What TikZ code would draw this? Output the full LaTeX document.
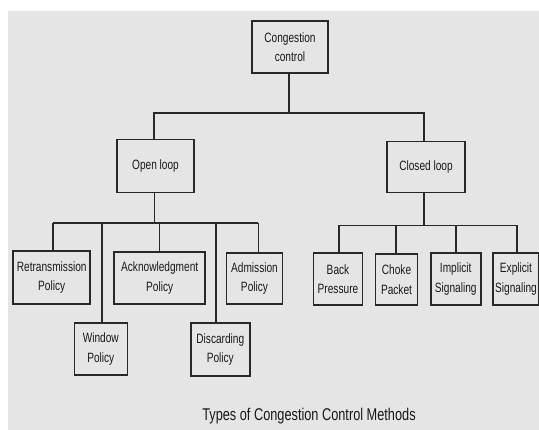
\documentclass[tikz,border=0pt]{standalone}
\usepackage{fontspec}
\usepackage{tikz}
\newfontfamily\diagfont[FakeStretch=0.75]{Liberation Sans}
\definecolor{bg_gray}{RGB}{229,229,229}
\definecolor{line_dark}{RGB}{40,40,40}
\definecolor{text_dark}{RGB}{25,25,25}

\begin{document}
\begin{tikzpicture}[x=1pt,y=-1pt,line width=1.6pt]
    \tikzstyle{box}=[draw=line_dark, rectangle, inner sep=0pt, align=center, fill=none, text=text_dark, font=\diagfont\fontsize{13.5}{19.5}\selectfont]
    \tikzstyle{wire}=[draw=line_dark, line width=1.6pt]

    \useasboundingbox (0,0) rectangle (539,430);
    \fill[white] (0,0) rectangle (539,430);
    \fill[bg_gray] (8,11) rectangle (539,430);

    % top levels
    \node[box, minimum width=76pt, minimum height=52pt] (cc)  at (290,47)    {Congestion\\control};
    \node[box, minimum width=77pt, minimum height=53pt] (ol)  at (155.5,166) {Open loop};
    \node[box, minimum width=78pt, minimum height=51pt] (cl)  at (426,167)   {Closed loop};

    % open loop policies
    \node[box, minimum width=77pt, minimum height=53pt] (retx)  at (51.7,277.5)  {Retransmission\\Policy};
    \node[box, minimum width=53pt, minimum height=52pt] (wind)  at (100.8,349)   {Window\\Policy};
    \node[box, minimum width=91pt, minimum height=52pt] (ack)   at (159.7,278)   {Acknowledgment\\Policy};
    \node[box, minimum width=59pt, minimum height=53pt] (disc)  at (220.3,349.7) {Discarding\\Policy};
    \node[box, minimum width=56pt, minimum height=51pt] (admit) at (254.5,278.3) {Admission\\Policy};

    % closed loop methods
    \node[box, minimum width=49pt, minimum height=52pt] (back)  at (338,279)   {Back\\Pressure};
    \node[box, minimum width=42pt, minimum height=51pt] (choke) at (396.5,279.5) {Choke\\Packet};
    \node[box, minimum width=50pt, minimum height=52pt] (impl)  at (455.7,279) {Implicit\\Signaling};
    \node[box, minimum width=46pt, minimum height=52pt] (expl)  at (516,279)   {Explicit\\Signaling};

    \node[font=\diagfont\fontsize{17}{20}\selectfont, text=text_dark] (title) at (309,416) {Types of Congestion Control Methods};

    % bus points
    \coordinate (top) at (289,113);
    \coordinate (o1) at (52.7,223);
    \coordinate (o2) at (101.7,223);
    \coordinate (o3) at (159.3,223);
    \coordinate (o4) at (216,223);
    \coordinate (o5) at (258.3,223);
    \coordinate (c1) at (339,225.5);
    \coordinate (c2) at (396,225.5);
    \coordinate (c3) at (455.7,225.5);
    \coordinate (c4) at (516.7,225.5);

    \draw[wire] (cc.south -| top) -- (top);
    \draw[wire] (ol.north -| 154,0) |- (top) -| (cl.north -| 424,0);
    \draw[wire] (ol.south -| 154.3,0) -- (154.3,223);
    \draw[wire] (o1) -- (o5);
    \draw[wire] (cl.south -| 424,0) -- (424,225.5);
    \draw[wire] (c1) -- (c4);
    \draw[wire]
     (o1) -- (o1 |- retx.north)
     (o2) -- (o2 |- wind.north)
     (o3) -- (o3 |- ack.north)
     (o4) -- (o4 |- disc.north)
     (o5) -- (o5 |- admit.north)
     (c1) -- (c1 |- back.north)
     (c2) -- (c2 |- choke.north)
     (c3) -- (c3 |- impl.north)
     (c4) -- (c4 |- expl.north)
     ;
  \end{tikzpicture}
\end{document}
